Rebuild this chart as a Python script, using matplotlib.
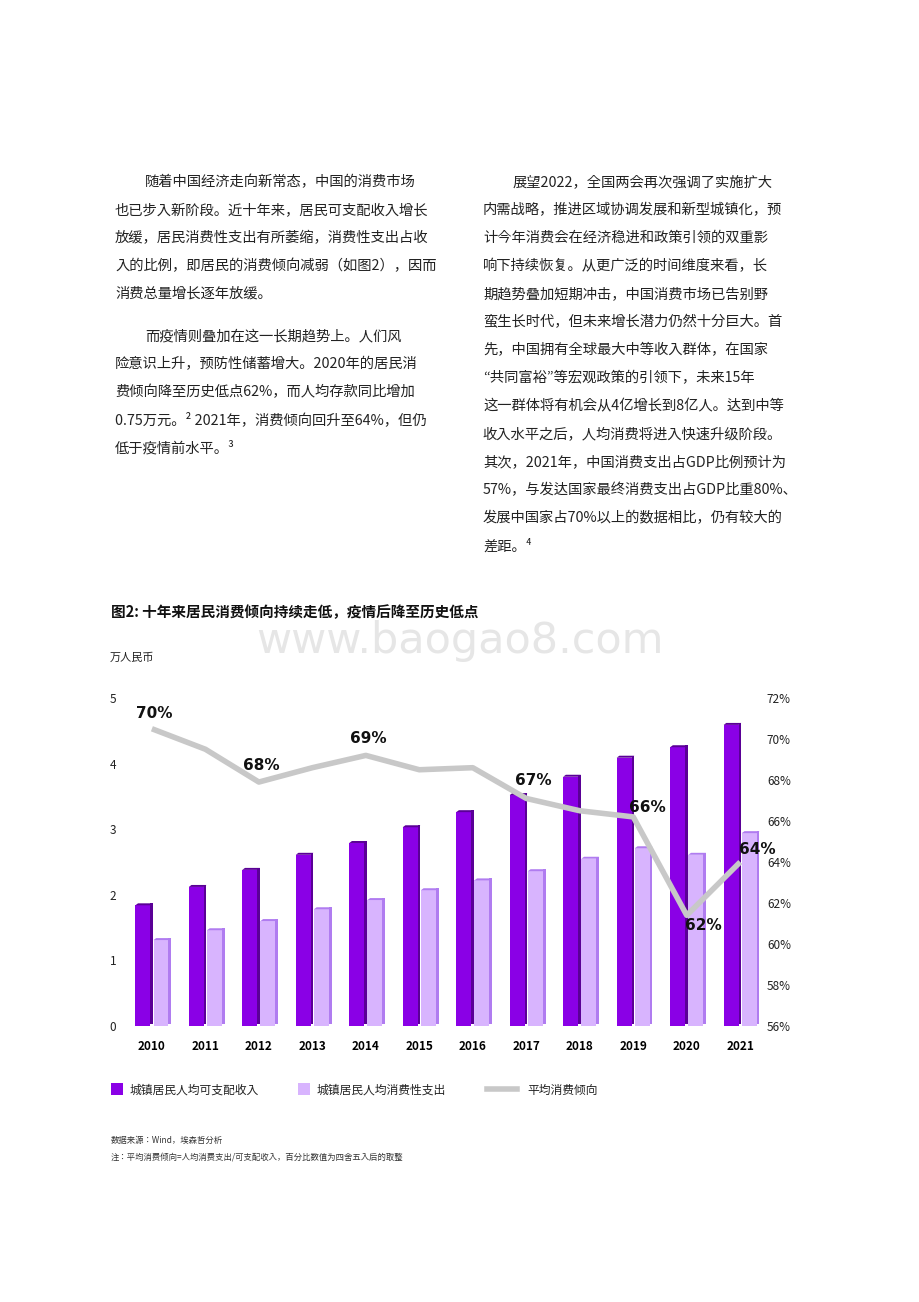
import matplotlib
matplotlib.use("Agg")
import matplotlib.pyplot as plt
from matplotlib.lines import Line2D
from matplotlib.patches import Rectangle

FONT = ["Noto Sans CJK SC","Noto Sans CJK JP","Noto Sans CJK TC","Noto Sans CJK KR","DejaVu Sans"]
plt.rcParams["font.family"] = "sans-serif"
plt.rcParams["font.sans-serif"] = FONT

years = ["2010","2011","2012","2013","2014","2015","2016","2017","2018","2019","2020","2021"]
income = [1.84,2.12,2.38,2.61,2.79,3.03,3.26,3.52,3.80,4.09,4.25,4.59]
spend = [1.31,1.46,1.60,1.78,1.92,2.07,2.22,2.36,2.55,2.71,2.61,2.94]
propensity = [70.5,69.5,67.9,68.6,69.2,68.5,68.6,67.1,66.5,66.2,61.4,64.0]
label_pts = {0:"70%",2:"68%",4:"69%",7:"67%",9:"66%",10:"62%",11:"64%"}
label_off = {0:(2,11),2:(2,12),4:(2,12),7:(5,13),9:(10,7),10:(12,-7),11:(12,9)}
left_ticks = [0,1,2,3,4,5]
right_ticks = [56,58,60,62,64,66,68,70,72]

W, H = 920, 1302
fig = plt.figure(figsize=(W/100, H/100), dpi=100)

def t(x, y, s, **kw):
    fig.text(x/W, 1-y/H, s, va="center", **kw)

left = [(145,182,"随着中国经济走向新常态，中国的消费市场"),
 (115,210,"也已步入新阶段。近十年来，居民可支配收入增长"),
 (115,238,"放缓，居民消费性支出有所萎缩，消费性支出占收"),
 (115,266,"入的比例，即居民的消费倾向减弱（如图2），因而"),
 (115,294,"消费总量增长逐年放缓。"),
 (145,336,"而疫情则叠加在这一长期趋势上。人们风"),
 (115,364,"险意识上升，预防性储蓄增大。2020年的居民消"),
 (115,392,"费倾向降至历史低点62%，而人均存款同比增加"),
 (115,420,"0.75万元。² 2021年，消费倾向回升至64%，但仍"),
 (115,448,"低于疫情前水平。³")]
right = [(513,182,"展望2022，全国两会再次强调了实施扩大"),
 (483,210,"内需战略，推进区域协调发展和新型城镇化，预"),
 (483,238,"计今年消费会在经济稳进和政策引领的双重影"),
 (483,266,"响下持续恢复。从更广泛的时间维度来看，长"),
 (483,294,"期趋势叠加短期冲击，中国消费市场已告别野"),
 (483,322,"蛮生长时代，但未来增长潜力仍然十分巨大。首"),
 (483,350,"先，中国拥有全球最大中等收入群体，在国家"),
 (483,378,"“共同富裕”等宏观政策的引领下，未来15年"),
 (483,406,"这一群体将有机会从4亿增长到8亿人。达到中等"),
 (483,434,"收入水平之后，人均消费将进入快速升级阶段。"),
 (483,462,"其次，2021年，中国消费支出占GDP比例预计为"),
 (483,490,"57%，与发达国家最终消费支出占GDP比重80%、"),
 (483,518,"发展中国家占70%以上的数据相比，仍有较大的"),
 (483,546,"差距。⁴")]
for x,y,s in left+right:
    t(x,y,s,fontsize=10.3,color="#222222")

t(460,641,"www.baogao8.com",fontsize=31,color="#e6e6e6",ha="center",family="DejaVu Sans",zorder=0)
t(111,612,"图2: 十年来居民消费倾向持续走低，疫情后降至历史低点",fontsize=10.5,fontweight="bold",color="#111111",zorder=5)
t(110,658,"万人民币",fontsize=8,color="#222222")

ax = fig.add_axes([115/W, 1-1026/H, 645/W, 328/H])
ax.set_xlim(-0.69, 11.37)
ax.set_ylim(0, 5)
x = list(range(len(years)))
bw = 0.28
dark, dark_side = "#8A00E6", "#5A0096"
light, light_side = "#D8B4FE", "#B07CF0"
for i in x:
    for val, off, c, cs in [(income[i],-0.17,dark,dark_side),(spend[i],0.17,light,light_side)]:
        x0 = i+off-bw/2
        ax.add_patch(Rectangle((x0,0),bw,val,color=c,lw=0,zorder=2))
        ax.add_patch(Rectangle((x0+bw,0.03),0.05,val,color=cs,lw=0,zorder=2))
        ax.fill([x0,x0+bw,x0+bw+0.05,x0+0.05],[val,val,val+0.03,val+0.03],color=cs,lw=0,zorder=2)
for s in ax.spines.values(): s.set_visible(False)
ax.set_yticks(left_ticks)
ax.set_yticklabels([str(v) for v in left_ticks])
ax.tick_params(axis="y",length=0,labelsize=8.5,pad=0,labelcolor="#222222")
for lab in ax.get_yticklabels(): lab.set_horizontalalignment("left"); lab.set_x(-0.008)
ax.set_xticks(x)
ax.set_xticklabels(years,fontweight="bold")
ax.tick_params(axis="x",length=0,labelsize=8.5,pad=10)

ax2 = ax.twinx()
ax2.set_ylim(56,72)
ax2.plot(x,propensity,color="#C8C8C8",lw=4,zorder=3,solid_capstyle="butt")
for i,s in label_pts.items():
    ax2.annotate(s,(i,propensity[i]),xytext=label_off[i],textcoords="offset points",
                 ha="center",va="center",fontsize=11,fontweight="bold",family="DejaVu Sans",color="#111111")
for sp in ax2.spines.values(): sp.set_visible(False)
ax2.set_yticks(right_ticks)
ax2.set_yticklabels([f"{v}%" for v in right_ticks])
ax2.tick_params(axis="y",length=0,labelsize=8.5,pad=5,labelcolor="#222222")

legax = fig.add_axes([0,0,1,1]); legax.set_xlim(0,W); legax.set_ylim(H,0); legax.axis("off")
legax.add_patch(Rectangle((111,1083),12,12,color=dark,lw=0))
legax.add_patch(Rectangle((298,1083),12,12,color=light,lw=0))
legax.add_line(Line2D([487,517],[1089,1089],color="#C8C8C8",lw=4))
t(130,1090,"城镇居民人均可支配收入",fontsize=8.5,color="#222222")
t(317,1090,"城镇居民人均消费性支出",fontsize=8.5,color="#222222")
t(527,1090,"平均消费倾向",fontsize=8.5,color="#222222")
t(111,1140,"数据来源：Wind，埃森哲分析",fontsize=6,color="#333333")
t(111,1158,"注：平均消费倾向=人均消费支出/可支配收入，百分比数值为四舍五入后的取整",fontsize=6,color="#333333")

fig.savefig("out.png",dpi=100,facecolor="white")
